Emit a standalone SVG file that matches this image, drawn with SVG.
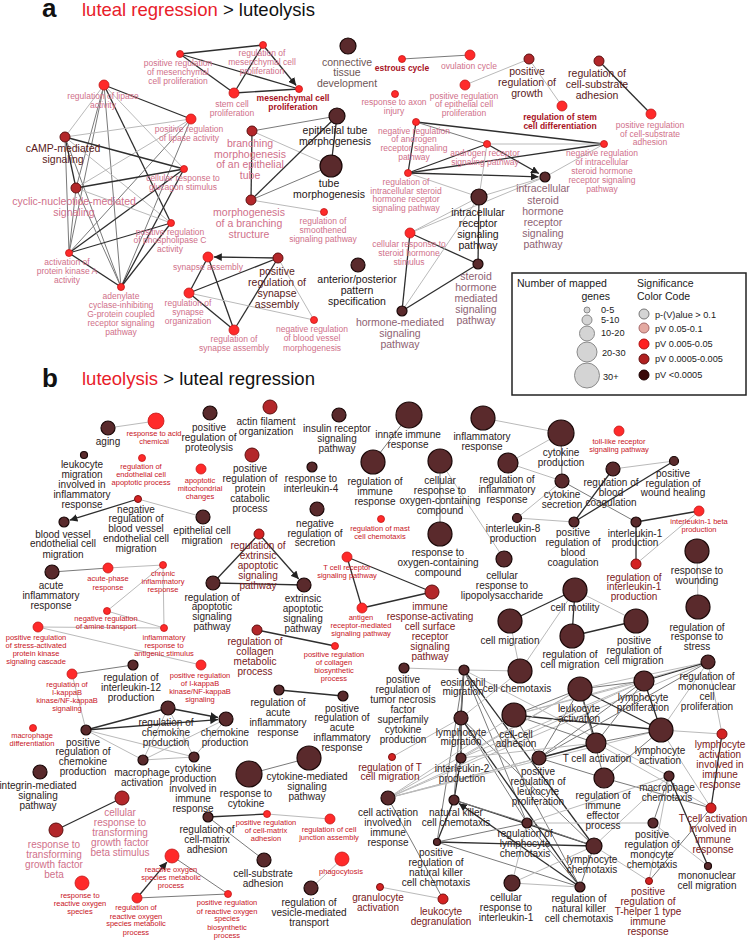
<svg xmlns="http://www.w3.org/2000/svg" width="748" height="940" viewBox="0 0 748 940">
<defs>
<marker id="arr" viewBox="0 0 10 10" refX="10" refY="5" markerWidth="6" markerHeight="6" orient="auto"><path d="M0,0 L10,5 L0,10 z" fill="#222"/></marker>
<style>
text{font-family:"Liberation Sans",Arial,sans-serif;text-anchor:middle}
.t1{font-size:10px;fill:#2b1b1b}
.t2{font-size:7.5px;fill:#c8141e}
.t3{font-size:8.5px;fill:#d0708a}
.t4{font-size:10.5px;fill:#d0708a}
.t4b{font-size:10px;fill:#d0708a}
.t5{font-size:10.5px;fill:#1e1414}
.t6{font-size:10.5px;fill:#5a1a20}
.t7{font-size:8.5px;fill:#a8121e;font-weight:bold}
.t8{font-size:10px;fill:#7a1820}
.t9{font-size:10.5px;fill:#8e6272}
.t10{font-size:10.5px;fill:#6e5656}
.lg{font-size:10.5px;fill:#1a1a1a;text-anchor:start}
.ls{font-size:9.2px;fill:#1a1a1a;text-anchor:start}
.dk{fill:#5a2a2c;stroke:#1a0808;stroke-width:1.2}
.dr{fill:#b3272a;stroke:#5e1010;stroke-width:1}
.md{fill:#d42222;stroke:#7a1010;stroke-width:1}
.rd{fill:#ff2a2a;stroke:#c21818;stroke-width:.8}
.e1{stroke:#2e2e2e;stroke-width:1.3}
.e2{stroke:#7a7a7a;stroke-width:1}
.e3{stroke:#bababa;stroke-width:1}
.ar{marker-end:url(#arr)}
</style>
</defs>
<rect width="748" height="940" fill="#fff"/>
<!-- titles -->
<text x="42" y="17" style="font-size:26px;font-weight:bold;text-anchor:start;fill:#111">a</text>
<text x="82" y="16" style="font-size:18.5px;text-anchor:start"><tspan fill="#e8202a">luteal regression</tspan><tspan fill="#111"> &gt; luteolysis</tspan></text>
<text x="42" y="387" style="font-size:26px;font-weight:bold;text-anchor:start;fill:#111">b</text>
<text x="82" y="385" style="font-size:18.5px;text-anchor:start"><tspan fill="#e8202a">luteolysis</tspan><tspan fill="#111"> &gt; luteal regression</tspan></text>

<g id="connectors" fill="none">
<!-- panel a lipase cluster -->
<line class="e1" x1="104" y1="85" x2="191" y2="119"/>
<line class="e3" x1="104" y1="85" x2="65" y2="137"/>
<line class="e3" x1="104" y1="85" x2="184" y2="169"/>
<line class="e2" x1="104" y1="85" x2="76" y2="188"/>
<line class="e1" x1="104" y1="85" x2="171" y2="223"/>
<line class="e2" x1="104" y1="85" x2="69" y2="253"/>
<line class="e2" x1="104" y1="85" x2="121" y2="287"/>
<line class="e3" x1="191" y1="119" x2="65" y2="137"/>
<line class="e3" x1="191" y1="119" x2="76" y2="188"/>
<line class="e2" x1="191" y1="119" x2="69" y2="253"/>
<line class="e2" x1="191" y1="119" x2="121" y2="287"/>
<line class="e1" x1="65" y1="137" x2="184" y2="169"/>
<line class="e1" x1="65" y1="137" x2="76" y2="188"/>
<line class="e3" x1="65" y1="137" x2="171" y2="223"/>
<line class="e2" x1="65" y1="137" x2="69" y2="253"/>
<line class="e2" x1="65" y1="137" x2="121" y2="287"/>
<line class="e1" x1="184" y1="169" x2="76" y2="188"/>
<line class="e1" x1="184" y1="169" x2="69" y2="253"/>
<line class="e1" x1="184" y1="169" x2="121" y2="287"/>
<line class="e3" x1="76" y1="188" x2="171" y2="223"/>
<line class="e2" x1="76" y1="188" x2="69" y2="253"/>
<line class="e2" x1="76" y1="188" x2="121" y2="287"/>
<line class="e1" x1="171" y1="223" x2="69" y2="253"/>
<line class="e1" x1="171" y1="223" x2="121" y2="287"/>
<line class="e1" x1="69" y1="253" x2="121" y2="287"/>
<!-- mesenchymal -->
<line class="e1" x1="180" y1="54" x2="263" y2="45"/>
<line class="e1" x1="180" y1="54" x2="234" y2="93"/>
<line class="e1" x1="180" y1="54" x2="299" y2="89"/>
<line class="e1" x1="263" y1="45" x2="234" y2="93"/>
<line class="e1 ar" x1="263" y1="45" x2="296.2" y2="85.5"/>
<line class="e1" x1="234" y1="93" x2="299" y2="89"/>
<!-- branching -->
<line class="e2" x1="252" y1="131" x2="337" y2="116"/>
<line class="e1" x1="252" y1="131" x2="251" y2="200"/>
<line class="e3" x1="252" y1="131" x2="331" y2="166"/>
<line class="e1" x1="251" y1="200" x2="337" y2="116"/>
<line class="e2" x1="251" y1="200" x2="331" y2="166"/>
<line class="e1" x1="337" y1="116" x2="331" y2="166"/>
<line class="e3" x1="251" y1="200" x2="324" y2="212"/>
<!-- synapse -->
<line class="e1 ar" x1="278" y1="258" x2="214" y2="257"/>
<line class="e1" x1="189" y1="293" x2="208" y2="257"/>
<line class="e1" x1="189" y1="293" x2="278" y2="258"/>
<line class="e1" x1="189" y1="293" x2="234" y2="330"/>
<line class="e1" x1="234" y1="330" x2="208" y2="257"/>
<line class="e1" x1="234" y1="330" x2="278" y2="258"/>
<line class="e3" x1="189" y1="293" x2="314" y2="320"/>
<line class="e3" x1="278" y1="258" x2="314" y2="320"/>
<!-- misc a -->
<line class="e2" x1="402" y1="59" x2="470" y2="55"/>
<line class="e3" x1="465" y1="85" x2="529" y2="59"/>
<line class="e3" x1="529" y1="59" x2="562" y2="106"/>
<line class="e1" x1="599" y1="61" x2="651" y2="114"/>
<!-- steroid -->
<line class="e1" x1="416" y1="122" x2="408" y2="173"/>
<line class="e1" x1="416" y1="122" x2="604" y2="144"/>
<line class="e2" x1="416" y1="122" x2="487" y2="144"/>
<line class="e1" x1="408" y1="173" x2="487" y2="144"/>
<line class="e1" x1="408" y1="173" x2="604" y2="144"/>
<line class="e1 ar" x1="408" y1="173" x2="538.5" y2="176.8"/>
<line class="e3" x1="408" y1="173" x2="479" y2="197"/>
<line class="e1 ar" x1="487" y1="144" x2="538.9" y2="173.5"/>
<line class="e3" x1="487" y1="144" x2="479" y2="197"/>
<line class="e3" x1="487" y1="144" x2="604" y2="144"/>
<line class="e3" x1="604" y1="144" x2="545" y2="177"/>
<line class="e3" x1="479" y1="197" x2="545" y2="177"/>
<line class="e3" x1="410" y1="233" x2="479" y2="197"/>
<line class="e3" x1="410" y1="233" x2="545" y2="177"/>
<line class="e1" x1="410" y1="233" x2="478" y2="264"/>
<line class="e1" x1="410" y1="233" x2="402" y2="311"/>
<line class="e1" x1="402" y1="311" x2="478" y2="264"/>
<line class="e3" x1="402" y1="311" x2="479" y2="197"/>
<line class="e1" x1="478" y1="264" x2="479" y2="197"/>

<!-- panel b -->
<line class="e3" x1="108" y1="428" x2="156" y2="421"/>
<line class="e1 ar" x1="138" y1="499" x2="69.7" y2="520.2"/>
<line class="e3" x1="138" y1="499" x2="203" y2="517"/>
<line class="e2" x1="409" y1="415" x2="373" y2="462"/>
<line class="e2" x1="440" y1="461" x2="440" y2="534"/>
<line class="e3" x1="440" y1="461" x2="504" y2="559"/>
<line class="e3" x1="483" y1="418" x2="561" y2="433"/>
<line class="e3" x1="561" y1="433" x2="508" y2="463"/>
<line class="e2" x1="561" y1="433" x2="562" y2="481"/>
<line class="e3" x1="508" y1="463" x2="562" y2="481"/>
<line class="e3" x1="562" y1="481" x2="517" y2="518"/>
<line class="e3" x1="517" y1="518" x2="574" y2="522"/>
<line class="e2" x1="562" y1="481" x2="636" y2="522"/>
<line class="e3" x1="613" y1="469" x2="674" y2="461"/>
<line class="e1" x1="574" y1="522" x2="613" y2="469"/>
<line class="e1" x1="574" y1="522" x2="674" y2="461"/>
<line class="e1" x1="636" y1="522" x2="699" y2="511"/>
<line class="e1" x1="636" y1="522" x2="636" y2="564"/>
<line class="e3" x1="699" y1="511" x2="636" y2="564"/>
<line class="e3" x1="697" y1="551" x2="698" y2="607"/>
<line class="e1" x1="575" y1="590" x2="510" y2="621"/>
<line class="e1" x1="575" y1="590" x2="572" y2="636"/>
<line class="e3" x1="575" y1="590" x2="636" y2="621"/>
<line class="e1" x1="572" y1="636" x2="636" y2="621"/>
<line class="e3" x1="575" y1="590" x2="520" y2="671"/>
<line class="e3" x1="510" y1="621" x2="520" y2="671"/>
<line class="e2" x1="52" y1="572" x2="108" y2="568"/>
<line class="e3" x1="108" y1="568" x2="163" y2="565"/>
<line class="e3" x1="163" y1="565" x2="107" y2="611"/>
<line class="e3" x1="163" y1="565" x2="164" y2="628"/>
<line class="e3" x1="107" y1="611" x2="164" y2="628"/>
<line class="e3" x1="38" y1="627" x2="164" y2="628"/>
<line class="e3" x1="38" y1="627" x2="201" y2="665"/>
<line class="e2" x1="72" y1="674" x2="133" y2="665"/>
<line class="e3" x1="72" y1="674" x2="86" y2="730"/>
<line class="e1" x1="213" y1="583" x2="259" y2="534"/>
<line class="e1" x1="213" y1="583" x2="304" y2="585"/>
<line class="e1 ar" x1="259" y1="534" x2="298.7" y2="579"/>
<line class="e1" x1="347" y1="557" x2="362" y2="608"/>
<line class="e1" x1="347" y1="557" x2="432" y2="592"/>
<line class="e1" x1="362" y1="608" x2="432" y2="592"/>
<line class="e1" x1="257" y1="630" x2="335" y2="646"/>
<line class="e1" x1="279" y1="690" x2="343" y2="696"/>
<line class="e3" x1="404" y1="668" x2="464" y2="670"/>
<line class="e1 ar" x1="168" y1="708" x2="218.1" y2="717.5"/>
<line class="e1 ar" x1="86" y1="730" x2="218" y2="719.6"/>
<line class="e1" x1="86" y1="730" x2="168" y2="708"/>
<line class="e3" x1="86" y1="730" x2="143" y2="760"/>
<line class="e3" x1="86" y1="730" x2="194" y2="757"/>
<line class="e3" x1="143" y1="760" x2="194" y2="757"/>
<line class="e3" x1="143" y1="760" x2="168" y2="708"/>
<line class="e3" x1="143" y1="760" x2="226" y2="719"/>
<line class="e3" x1="168" y1="708" x2="194" y2="757"/>
<line class="e3" x1="226" y1="719" x2="194" y2="757"/>
<line class="e1" x1="122" y1="798" x2="56" y2="830"/>
<line class="e1 ar" x1="137" y1="898" x2="166.9" y2="862.1"/>
<line class="e2" x1="137" y1="898" x2="228" y2="894"/>
<line class="e2" x1="172" y1="856" x2="228" y2="894"/>
<line class="e1" x1="208" y1="817" x2="267" y2="814"/>
<line class="e2" x1="208" y1="817" x2="264" y2="860"/>
<line class="e3" x1="267" y1="814" x2="330" y2="819"/>
<line class="e2" x1="249" y1="774" x2="309" y2="758"/>
<line class="e3" x1="342" y1="859" x2="311" y2="888"/>
<line class="e3" x1="380" y1="887" x2="443" y2="899"/>
<line class="e2" x1="388" y1="798" x2="443" y2="899"/>
<line class="e3" x1="392" y1="757" x2="461" y2="718"/>
<!-- immune cluster -->
<line class="e1" x1="464" y1="670" x2="461" y2="718"/>
<line class="e1" x1="461" y1="718" x2="461" y2="758"/>
<line class="e1" x1="461" y1="758" x2="454" y2="800"/>
<line class="e1" x1="437" y1="842" x2="454" y2="800"/>
<line class="e1 ar" x1="580" y1="887" x2="458.9" y2="803.4"/>
<line class="e1" x1="464" y1="670" x2="594" y2="846"/>
<line class="e2" x1="464" y1="670" x2="527" y2="823"/>
<line class="e2" x1="464" y1="670" x2="580" y2="887"/>
<line class="e2" x1="464" y1="670" x2="454" y2="800"/>
<line class="e3" x1="464" y1="670" x2="520" y2="671"/>
<line class="e3" x1="464" y1="670" x2="669" y2="776"/>
<line class="e2" x1="464" y1="670" x2="437" y2="842"/>
<line class="e2" x1="461" y1="718" x2="594" y2="846"/>
<line class="e2" x1="461" y1="718" x2="527" y2="823"/>
<line class="e1" x1="461" y1="718" x2="580" y2="887"/>
<line class="e3" x1="461" y1="718" x2="520" y2="671"/>
<line class="e3" x1="388" y1="798" x2="580" y2="689"/>
<line class="e3" x1="388" y1="798" x2="661" y2="730"/>
<line class="e3" x1="388" y1="798" x2="596" y2="743"/>
<line class="e3" x1="388" y1="798" x2="644" y2="681"/>
<line class="e3" x1="388" y1="798" x2="708" y2="662"/>
<line class="e3" x1="388" y1="798" x2="514" y2="715"/>
<line class="e3" x1="388" y1="798" x2="539" y2="758"/>
<line class="e1" x1="454" y1="800" x2="594" y2="846"/>
<line class="e2" x1="454" y1="800" x2="527" y2="823"/>
<line class="e1" x1="437" y1="842" x2="594" y2="846"/>
<line class="e2" x1="437" y1="842" x2="527" y2="823"/>
<line class="e2" x1="437" y1="842" x2="580" y2="887"/>
<line class="e2" x1="514" y1="715" x2="580" y2="689"/>
<line class="e2" x1="514" y1="715" x2="596" y2="743"/>
<line class="e1" x1="514" y1="715" x2="661" y2="730"/>
<line class="e3" x1="514" y1="715" x2="708" y2="662"/>
<line class="e3" x1="514" y1="715" x2="644" y2="681"/>
<line class="e2" x1="514" y1="715" x2="539" y2="758"/>
<line class="e2" x1="580" y1="689" x2="644" y2="681"/>
<line class="e3" x1="580" y1="689" x2="708" y2="662"/>
<line class="e1" x1="580" y1="689" x2="661" y2="730"/>
<line class="e1" x1="580" y1="689" x2="596" y2="743"/>
<line class="e2" x1="580" y1="689" x2="539" y2="758"/>
<line class="e2" x1="580" y1="689" x2="604" y2="778"/>
<line class="e1" x1="644" y1="681" x2="708" y2="662"/>
<line class="e1" x1="644" y1="681" x2="661" y2="730"/>
<line class="e2" x1="644" y1="681" x2="596" y2="743"/>
<line class="e2" x1="644" y1="681" x2="539" y2="758"/>
<line class="e2" x1="708" y1="662" x2="539" y2="758"/>
<line class="e3" x1="708" y1="662" x2="722" y2="734"/>
<line class="e3" x1="708" y1="662" x2="661" y2="730"/>
<line class="e2" x1="596" y1="743" x2="661" y2="730"/>
<line class="e1" x1="596" y1="743" x2="539" y2="758"/>
<line class="e3" x1="596" y1="743" x2="711" y2="808"/>
<line class="e3" x1="661" y1="730" x2="722" y2="734"/>
<line class="e3" x1="661" y1="730" x2="711" y2="808"/>
<line class="e2" x1="661" y1="730" x2="604" y2="778"/>
<line class="e2" x1="604" y1="778" x2="711" y2="808"/>
<line class="e2" x1="604" y1="778" x2="539" y2="758"/>
<line class="e1" x1="722" y1="734" x2="711" y2="808"/>
<line class="e1" x1="669" y1="776" x2="708" y2="866"/>
<line class="e2" x1="527" y1="823" x2="594" y2="846"/>
<line class="e2" x1="527" y1="823" x2="580" y2="887"/>
<line class="e3" x1="527" y1="823" x2="669" y2="776"/>
<line class="e3" x1="527" y1="823" x2="653" y2="823"/>
<line class="e2" x1="594" y1="846" x2="580" y2="887"/>
<line class="e3" x1="594" y1="846" x2="649" y2="881"/>
<line class="e3" x1="594" y1="846" x2="669" y2="776"/>
<line class="e2" x1="653" y1="823" x2="669" y2="776"/>
<line class="e3" x1="653" y1="823" x2="708" y2="866"/>
<line class="e2" x1="649" y1="881" x2="711" y2="808"/>
<line class="e3" x1="649" y1="881" x2="669" y2="776"/>
<line class="e3" x1="512" y1="883" x2="527" y2="823"/>
<line class="e3" x1="512" y1="883" x2="594" y2="846"/>
<line class="e3" x1="512" y1="883" x2="580" y2="887"/>
<line class="e3" x1="461" y1="758" x2="644" y2="681"/>
<line class="e3" x1="461" y1="758" x2="596" y2="743"/>
<line class="e3" x1="461" y1="758" x2="580" y2="689"/>
</g>

<!-- panel a nodes -->
<g id="a-posRegMes"><circle class="rd" cx="180" cy="54" r="3.5"/><text class="t3"><tspan x="178" y="66">positive regulation</tspan><tspan x="178" y="75">of mesenchymal</tspan><tspan x="178" y="84">cell proliferation</tspan></text></g>
<g id="a-regMes"><circle class="rd" cx="263" cy="45" r="3.5"/><text class="t3"><tspan x="262" y="56">regulation of</tspan><tspan x="262" y="65">mesenchymal cell</tspan><tspan x="262" y="74">proliferation</tspan></text></g>
<g id="a-stem"><circle class="rd" cx="234" cy="93" r="5"/><text class="t3"><tspan x="232" y="107">stem cell</tspan><tspan x="232" y="116">proliferation</tspan></text></g>
<g id="a-mesProl"><circle class="rd" cx="299" cy="89" r="3.5"/><text class="t7"><tspan x="293" y="101">mesenchymal cell</tspan><tspan x="293" y="110">proliferation</tspan></text></g>
<g id="a-regLip"><circle class="rd" cx="104" cy="85" r="5"/><text class="t3"><tspan x="103" y="99">regulation of lipase</tspan><tspan x="103" y="108">activity</tspan></text></g>
<g id="a-posLip"><circle class="rd" cx="191" cy="119" r="5"/><text class="t3"><tspan x="189" y="132">positive regulation</tspan><tspan x="189" y="141">of lipase activity</tspan></text></g>
<g id="a-cAMP"><circle class="dr" cx="65" cy="137" r="5"/><text class="t6"><tspan x="63" y="152">cAMP-mediated</tspan><tspan x="63" y="163">signaling</tspan></text></g>
<g id="a-gluc"><circle class="rd" cx="184" cy="169" r="3.5"/><text class="t3"><tspan x="183" y="181">cellular response to</tspan><tspan x="183" y="190">glucagon stimulus</tspan></text></g>
<g id="a-cyc"><circle class="dr" cx="76" cy="188" r="5"/><text class="t4"><tspan x="74" y="205">cyclic-nucleotide-mediated</tspan><tspan x="74" y="216">signaling</tspan></text></g>
<g id="a-plc"><circle class="rd" cx="171" cy="223" r="3.5"/><text class="t3"><tspan x="170" y="235">positive regulation</tspan><tspan x="170" y="243">of phospholipase C</tspan><tspan x="170" y="252">activity</tspan></text></g>
<g id="a-pka"><circle class="rd" cx="69" cy="253" r="3.5"/><text class="t3"><tspan x="67" y="265">activation of</tspan><tspan x="67" y="274">protein kinase A</tspan><tspan x="67" y="283">activity</tspan></text></g>
<g id="a-adcy"><circle class="rd" cx="121" cy="287" r="3.5"/><text class="t3"><tspan x="121" y="299">adenylate</tspan><tspan x="121" y="308">cyclase-inhibiting</tspan><tspan x="121" y="317">G-protein coupled</tspan><tspan x="121" y="326">receptor signaling</tspan><tspan x="121" y="335">pathway</tspan></text></g>
<g id="a-synAss"><circle class="rd" cx="208" cy="257" r="5"/><text class="t3" x="208" y="270">synapse assembly</text></g>
<g id="a-regSynOrg"><circle class="rd" cx="189" cy="293" r="5"/><text class="t3"><tspan x="188" y="306">regulation of</tspan><tspan x="188" y="315">synapse</tspan><tspan x="188" y="324">organization</tspan></text></g>
<g id="a-regSynAss"><circle class="rd" cx="234" cy="330" r="5"/><text class="t3"><tspan x="234" y="342">regulation of</tspan><tspan x="234" y="351">synapse assembly</tspan></text></g>
<g id="a-posRegSyn"><circle class="dr" cx="278" cy="258" r="5"/><text class="t6"><tspan x="277" y="275">positive</tspan><tspan x="277" y="286">regulation of</tspan><tspan x="277" y="297">synapse</tspan><tspan x="277" y="308">assembly</tspan></text></g>
<g id="a-negBV"><circle class="rd" cx="314" cy="320" r="3.5"/><text class="t3"><tspan x="312" y="332">negative regulation</tspan><tspan x="312" y="341">of blood vessel</tspan><tspan x="312" y="351">morphogenesis</tspan></text></g>
<g id="a-conn"><circle class="dk" cx="348" cy="46" r="8"/><text class="t10"><tspan x="347" y="66">connective</tspan><tspan x="347" y="76">tissue</tspan><tspan x="347" y="87">development</tspan></text></g>
<g id="a-branch"><circle class="dr" cx="252" cy="131" r="5"/><text class="t4"><tspan x="250" y="147">branching</tspan><tspan x="250" y="158">morphogenesis</tspan><tspan x="250" y="168">of an epithelial</tspan><tspan x="250" y="179">tube</tspan></text></g>
<g id="a-epi"><circle class="dk" cx="337" cy="116" r="8"/><text class="t5"><tspan x="335" y="134">epithelial tube</tspan><tspan x="335" y="145">morphogenesis</tspan></text></g>
<g id="a-tube"><circle class="dk" cx="331" cy="166" r="11"/><text class="t5"><tspan x="329" y="187">tube</tspan><tspan x="329" y="198">morphogenesis</tspan></text></g>
<g id="a-morphBr"><circle class="dr" cx="251" cy="200" r="5"/><text class="t4"><tspan x="249" y="216">morphogenesis</tspan><tspan x="249" y="227">of a branching</tspan><tspan x="249" y="238">structure</tspan></text></g>
<g id="a-smooth"><circle class="rd" cx="324" cy="212" r="3.5"/><text class="t3"><tspan x="323" y="224">regulation of</tspan><tspan x="323" y="233">smoothened</tspan><tspan x="323" y="242">signaling pathway</tspan></text></g>
<g id="a-ap"><circle class="dk" cx="358" cy="265" r="7"/><text class="t5"><tspan x="357" y="283">anterior/posterior</tspan><tspan x="357" y="294">pattern</tspan><tspan x="357" y="305">specification</tspan></text></g>
<g id="a-estrous"><circle class="rd" cx="402" cy="59" r="3.5"/><text class="t7" x="402" y="71">estrous cycle</text></g>
<g id="a-ovul"><circle class="rd" cx="470" cy="55" r="5"/><text class="t3" x="469" y="69">ovulation cycle</text></g>
<g id="a-axon"><circle class="rd" cx="395" cy="94" r="3.5"/><text class="t3"><tspan x="394" y="105">response to axon</tspan><tspan x="394" y="114">injury</tspan></text></g>
<g id="a-posEpi"><circle class="rd" cx="465" cy="85" r="5"/><text class="t3"><tspan x="464" y="99">positive regulation</tspan><tspan x="464" y="107">of epithelial cell</tspan><tspan x="464" y="116">proliferation</tspan></text></g>
<g id="a-negAndr"><circle class="rd" cx="416" cy="122" r="3.5"/><text class="t3"><tspan x="414" y="134">negative regulation</tspan><tspan x="414" y="142">of androgen</tspan><tspan x="414" y="151">receptor signaling</tspan><tspan x="414" y="160">pathway</tspan></text></g>
<g id="a-andr"><circle class="rd" cx="487" cy="144" r="3.5"/><text class="t3"><tspan x="485" y="156">androgen receptor</tspan><tspan x="485" y="165">signaling pathway</tspan></text></g>
<g id="a-regIntra"><circle class="rd" cx="408" cy="173" r="3.5"/><text class="t3"><tspan x="406" y="185">regulation of</tspan><tspan x="406" y="194">intracellular steroid</tspan><tspan x="406" y="202">hormone receptor</tspan><tspan x="406" y="211">signaling pathway</tspan></text></g>
<g id="a-intraRec"><circle class="dk" cx="479" cy="197" r="8"/><text class="t5"><tspan x="478" y="216">intracellular</tspan><tspan x="478" y="227">receptor</tspan><tspan x="478" y="238">signaling</tspan><tspan x="478" y="249">pathway</tspan></text></g>
<g id="a-cellSter"><circle class="rd" cx="410" cy="233" r="5"/><text class="t3"><tspan x="409" y="247">cellular response to</tspan><tspan x="409" y="256">steroid hormone</tspan><tspan x="409" y="265">stimulus</tspan></text></g>
<g id="a-sterHorm"><circle class="dk" cx="478" cy="264" r="5"/><text class="t9"><tspan x="476" y="280">steroid</tspan><tspan x="476" y="291">hormone</tspan><tspan x="476" y="302">mediated</tspan><tspan x="476" y="313">signaling</tspan><tspan x="476" y="324">pathway</tspan></text></g>
<g id="a-hormMed"><circle class="dk" cx="402" cy="311" r="5"/><text class="t9"><tspan x="400" y="326">hormone-mediated</tspan><tspan x="400" y="337">signaling</tspan><tspan x="400" y="348">pathway</tspan></text></g>
<g id="a-posGrowth"><circle class="dr" cx="529" cy="59" r="5"/><text class="t6"><tspan x="527" y="75">positive</tspan><tspan x="527" y="86">regulation of</tspan><tspan x="527" y="97">growth</tspan></text></g>
<g id="a-regCSA"><circle class="dr" cx="599" cy="61" r="5"/><text class="t6"><tspan x="597" y="77">regulation of</tspan><tspan x="597" y="88">cell-substrate</tspan><tspan x="597" y="99">adhesion</tspan></text></g>
<g id="a-regStem"><circle class="rd" cx="562" cy="106" r="5"/><text class="t7"><tspan x="560" y="120">regulation of stem</tspan><tspan x="560" y="129">cell differentiation</tspan></text></g>
<g id="a-posCSA"><circle class="rd" cx="651" cy="114" r="5"/><text class="t3"><tspan x="650" y="128">positive regulation</tspan><tspan x="650" y="137">of cell-substrate</tspan><tspan x="650" y="145">adhesion</tspan></text></g>
<g id="a-negIntra"><circle class="rd" cx="604" cy="144" r="3.5"/><text class="t3"><tspan x="602" y="156">negative regulation</tspan><tspan x="602" y="165">of intracellular</tspan><tspan x="602" y="174">steroid hormone</tspan><tspan x="602" y="183">receptor signaling</tspan><tspan x="602" y="192">pathway</tspan></text></g>
<g id="a-intraSter"><circle class="dk" cx="545" cy="177" r="5"/><text class="t9"><tspan x="543" y="192">intracellular</tspan><tspan x="543" y="204">steroid</tspan><tspan x="543" y="215">hormone</tspan><tspan x="543" y="226">receptor</tspan><tspan x="543" y="237">signaling</tspan><tspan x="543" y="248">pathway</tspan></text></g>

<!-- legend -->
<g id="legend">
<rect x="512" y="273" width="234" height="122" fill="#fff" stroke="#222" stroke-width="1.5"/>
<text class="lg" x="517" y="287">Number of mapped</text>
<text class="lg" x="610" y="300" style="text-anchor:end">genes</text>
<text class="lg" x="637" y="287">Significance</text>
<text class="lg" x="637" y="300">Color Code</text>
<g fill="#d4d4d4" stroke="#8a8a8a" stroke-width="1">
<circle cx="587" cy="310" r="3"/><circle cx="587" cy="320" r="5"/><circle cx="587" cy="333.5" r="7.5"/><circle cx="587" cy="352" r="10"/><circle cx="587" cy="375.5" r="12.5"/>
</g>
<text class="ls" x="601" y="312.5">0-5</text>
<text class="ls" x="601" y="322.5">5-10</text>
<text class="ls" x="601" y="336">10-20</text>
<text class="ls" x="602" y="355.5">20-30</text>
<text class="ls" x="603" y="380">30+</text>
<circle cx="644" cy="314" r="5" fill="#d4d4d4" stroke="#777"/>
<circle cx="644" cy="328" r="5" fill="#e4aaa2" stroke="#a86a6a"/>
<circle cx="644" cy="344" r="5" fill="#ff2020" stroke="#b01010"/>
<circle cx="644" cy="359" r="5" fill="#b02020" stroke="#601010"/>
<circle cx="644" cy="375" r="5" fill="#3a0a0a" stroke="#1a0000"/>
<text class="ls" x="655" y="317.5">p-(V)alue &gt; 0.1</text>
<text class="ls" x="655" y="331.5">pV 0.05-0.1</text>
<text class="ls" x="655" y="346.5">pV 0.005-0.05</text>
<text class="ls" x="655" y="362">pV 0.0005-0.005</text>
<text class="ls" x="655" y="378">pV &lt;0.0005</text>
</g>

<!-- panel b nodes -->
<g id="b-aging"><circle class="dk" cx="108" cy="428" r="7"/><text class="t1" x="108" y="445">aging</text></g>
<g id="b-acidChem"><circle class="rd" cx="156" cy="421" r="8"/><text class="t2"><tspan x="154" y="436">response to acid</tspan><tspan x="154" y="444">chemical</tspan></text></g>
<g id="b-posProteol"><circle class="dk" cx="210" cy="413" r="7"/><text class="t1"><tspan x="209" y="430.5">positive</tspan><tspan x="209" y="440.5">regulation of</tspan><tspan x="209" y="450.5">proteolysis</tspan></text></g>
<g id="b-actin"><circle class="dr" cx="270" cy="407" r="7"/><text class="t1"><tspan x="266" y="424.5">actin filament</tspan><tspan x="266" y="434.5">organization</tspan></text></g>
<g id="b-insulin"><circle class="dk" cx="339" cy="415" r="7"/><text class="t1"><tspan x="337" y="431.5">insulin receptor</tspan><tspan x="337" y="441.5">signaling</tspan><tspan x="337" y="451.5">pathway</tspan></text></g>
<g id="b-innate"><circle class="dk" cx="409" cy="415" r="13"/><text class="t1"><tspan x="408" y="437.5">innate immune</tspan><tspan x="408" y="447.5">response</tspan></text></g>
<g id="b-inflam"><circle class="dk" cx="483" cy="418" r="12"/><text class="t1"><tspan x="482" y="439.5">inflammatory</tspan><tspan x="482" y="449.5">response</tspan></text></g>
<g id="b-cytoProd"><circle class="dk" cx="561" cy="433" r="13"/><text class="t1"><tspan x="561" y="455.5">cytokine</tspan><tspan x="561" y="465.5">production</tspan></text></g>
<g id="b-toll"><circle class="rd" cx="619" cy="431" r="5"/><text class="t2"><tspan x="619" y="443.5">toll-like receptor</tspan><tspan x="619" y="451.5">signaling pathway</tspan></text></g>
<g id="b-leukMigInf"><circle class="dk" cx="84" cy="455" r="3.5"/><text class="t1"><tspan x="82" y="467.5">leukocyte</tspan><tspan x="82" y="477.5">migration</tspan><tspan x="82" y="487.5">involved in</tspan><tspan x="82" y="497.5">inflammatory</tspan><tspan x="82" y="507.5">response</tspan></text></g>
<g id="b-regEndo"><circle class="rd" cx="142" cy="458" r="3.5"/><text class="t2"><tspan x="141" y="469">regulation of</tspan><tspan x="141" y="477">endothelial cell</tspan><tspan x="141" y="485">apoptotic process</tspan></text></g>
<g id="b-apoMito"><circle class="rd" cx="201" cy="469" r="5"/><text class="t2"><tspan x="200" y="482.5">apoptotic</tspan><tspan x="200" y="490.5">mitochondrial</tspan><tspan x="200" y="498.5">changes</tspan></text></g>
<g id="b-posProtCat"><circle class="dr" cx="252" cy="455" r="7"/><text class="t1"><tspan x="250" y="471.5">positive</tspan><tspan x="250" y="481.5">regulation of</tspan><tspan x="250" y="491.5">protein</tspan><tspan x="250" y="501.5">catabolic</tspan><tspan x="250" y="511.5">process</tspan></text></g>
<g id="b-respIL4"><circle class="dk" cx="312" cy="467" r="5"/><text class="t1"><tspan x="311" y="481.5">response to</tspan><tspan x="311" y="491.5">interleukin-4</tspan></text></g>
<g id="b-regImm"><circle class="dk" cx="373" cy="462" r="12"/><text class="t1"><tspan x="375" y="484.5">regulation of</tspan><tspan x="375" y="494.5">immune</tspan><tspan x="375" y="504.5">response</tspan></text></g>
<g id="b-cellRespOx"><circle class="dk" cx="440" cy="461" r="12"/><text class="t1"><tspan x="440" y="483.5">cellular</tspan><tspan x="440" y="493.5">response to</tspan><tspan x="440" y="503.5">oxygen-containing</tspan><tspan x="440" y="513.5">compound</tspan></text></g>
<g id="b-regInflam"><circle class="dk" cx="508" cy="463" r="10"/><text class="t1"><tspan x="507" y="482.5">regulation of</tspan><tspan x="507" y="492.5">inflammatory</tspan><tspan x="507" y="502.5">response</tspan></text></g>
<g id="b-cytoSec"><circle class="dk" cx="562" cy="481" r="7"/><text class="t1"><tspan x="562" y="497.5">cytokine</tspan><tspan x="562" y="507.5">secretion</tspan></text></g>
<g id="b-regBloodCoag"><circle class="dk" cx="613" cy="469" r="7"/><text class="t1"><tspan x="611" y="485.5">regulation of</tspan><tspan x="611" y="495.5">blood</tspan><tspan x="611" y="505.5">coagulation</tspan></text></g>
<g id="b-posWound"><circle class="dk" cx="674" cy="461" r="4.5"/><text class="t1"><tspan x="673" y="476.5">positive</tspan><tspan x="673" y="486.5">regulation of</tspan><tspan x="673" y="496">wound healing</tspan></text></g>
<g id="b-negBVEndo"><circle class="md" cx="138" cy="499" r="3.5"/><text class="t1"><tspan x="136" y="512.5">negative</tspan><tspan x="136" y="522">regulation of</tspan><tspan x="136" y="532">blood vessel</tspan><tspan x="136" y="542">endothelial cell</tspan><tspan x="136" y="552">migration</tspan></text></g>
<g id="b-bvEndo"><circle class="dk" cx="64" cy="522" r="5"/><text class="t1"><tspan x="63" y="537.5">blood vessel</tspan><tspan x="63" y="547">endothelial cell</tspan><tspan x="63" y="557.5">migration</tspan></text></g>
<g id="b-epiCellMig"><circle class="dk" cx="203" cy="517" r="7"/><text class="t1"><tspan x="202" y="533.5">epithelial cell</tspan><tspan x="202" y="543.5">migration</tspan></text></g>
<g id="b-negSec"><circle class="dk" cx="317" cy="509" r="7"/><text class="t1"><tspan x="315" y="526.5">negative</tspan><tspan x="315" y="536.5">regulation of</tspan><tspan x="315" y="546">secretion</tspan></text></g>
<g id="b-mastCell"><circle class="rd" cx="381" cy="519" r="3.5"/><text class="t2"><tspan x="380" y="530.5">regulation of mast</tspan><tspan x="380" y="538.5">cell chemotaxis</tspan></text></g>
<g id="b-respOx"><circle class="dk" cx="440" cy="534" r="12"/><text class="t1"><tspan x="438" y="555.5">response to</tspan><tspan x="438" y="565.5">oxygen-containing</tspan><tspan x="438" y="575.5">compound</tspan></text></g>
<g id="b-IL8"><circle class="dk" cx="517" cy="518" r="4.5"/><text class="t1"><tspan x="513" y="531.5">interleukin-8</tspan><tspan x="513" y="541.5">production</tspan></text></g>
<g id="b-posBloodCoag"><circle class="dk" cx="574" cy="522" r="5"/><text class="t1"><tspan x="573" y="536">positive</tspan><tspan x="573" y="546">regulation of</tspan><tspan x="573" y="556">blood</tspan><tspan x="573" y="566">coagulation</tspan></text></g>
<g id="b-IL1prod"><circle class="dk" cx="636" cy="522" r="5"/><text class="t1"><tspan x="635" y="536.5">interleukin-1</tspan><tspan x="635" y="545.5">production</tspan></text></g>
<g id="b-IL1beta"><circle class="rd" cx="699" cy="511" r="5"/><text class="t2"><tspan x="699" y="524">interleukin-1 beta</tspan><tspan x="699" y="532">production</tspan></text></g>
<g id="b-cellRespLPS"><circle class="dk" cx="504" cy="559" r="8"/><text class="t1"><tspan x="502" y="578.5">cellular</tspan><tspan x="502" y="588.5">response to</tspan><tspan x="502" y="598.5">lipopolysaccharide</tspan></text></g>
<g id="b-regIL1"><circle class="md" cx="636" cy="564" r="5"/><text class="t8"><tspan x="634" y="580.5">regulation of</tspan><tspan x="634" y="590">interleukin-1</tspan><tspan x="634" y="600">production</tspan></text></g>
<g id="b-respWound"><circle class="dk" cx="697" cy="551" r="12"/><text class="t1"><tspan x="697" y="573.5">response to</tspan><tspan x="697" y="583.5">wounding</tspan></text></g>
<g id="b-acuteInf"><circle class="dk" cx="52" cy="572" r="7"/><text class="t1"><tspan x="51" y="588.5">acute</tspan><tspan x="51" y="598.5">inflammatory</tspan><tspan x="51" y="608.5">response</tspan></text></g>
<g id="b-acutePhase"><circle class="rd" cx="108" cy="568" r="5"/><text class="t2"><tspan x="108" y="581">acute-phase</tspan><tspan x="108" y="590">response</tspan></text></g>
<g id="b-chronic"><circle class="rd" cx="163" cy="565" r="3.5"/><text class="t2"><tspan x="163" y="576">chronic</tspan><tspan x="163" y="584">inflammatory</tspan><tspan x="163" y="592">response</tspan></text></g>
<g id="b-regApop"><circle class="dk" cx="213" cy="583" r="7"/><text class="t1"><tspan x="212" y="600.5">regulation of</tspan><tspan x="212" y="610">apoptotic</tspan><tspan x="212" y="620">signaling</tspan><tspan x="212" y="630">pathway</tspan></text></g>
<g id="b-regExtr"><circle class="md" cx="259" cy="534" r="5"/><text class="t8"><tspan x="258" y="548.5">regulation of</tspan><tspan x="258" y="558.5">extrinsic</tspan><tspan x="258" y="568.5">apoptotic</tspan><tspan x="258" y="578.5">signaling</tspan><tspan x="258" y="588.5">pathway</tspan></text></g>
<g id="b-extr"><circle class="dk" cx="304" cy="585" r="7"/><text class="t1"><tspan x="303" y="601.5">extrinsic</tspan><tspan x="303" y="611.5">apoptotic</tspan><tspan x="303" y="621.5">signaling</tspan><tspan x="303" y="631.5">pathway</tspan></text></g>
<g id="b-TCR"><circle class="rd" cx="347" cy="557" r="5"/><text class="t2"><tspan x="347" y="569.5">T cell receptor</tspan><tspan x="347" y="577.5">signaling pathway</tspan></text></g>
<g id="b-antigen"><circle class="rd" cx="362" cy="608" r="5"/><text class="t2"><tspan x="361" y="620">antigen</tspan><tspan x="361" y="628">receptor-mediated</tspan><tspan x="361" y="636">signaling pathway</tspan></text></g>
<g id="b-immRespAct"><circle class="dr" cx="432" cy="592" r="7"/><text class="t8"><tspan x="430" y="609.5">immune</tspan><tspan x="430" y="619.5">response-activating</tspan><tspan x="430" y="629.5">cell surface</tspan><tspan x="430" y="639.5">receptor</tspan><tspan x="430" y="649.5">signaling</tspan><tspan x="430" y="659.5">pathway</tspan></text></g>
<g id="b-cellMotility"><circle class="dk" cx="575" cy="590" r="12"/><text class="t1" x="575" y="611">cell motility</text></g>
<g id="b-cellMig"><circle class="dk" cx="510" cy="621" r="12"/><text class="t1" x="510" y="644">cell migration</text></g>
<g id="b-regCellMig"><circle class="dk" cx="572" cy="636" r="12"/><text class="t1"><tspan x="570" y="657.5">regulation of</tspan><tspan x="570" y="667.5">cell migration</tspan></text></g>
<g id="b-posRegCellMig"><circle class="dk" cx="636" cy="621" r="12"/><text class="t1"><tspan x="634" y="643.5">positive</tspan><tspan x="634" y="653.5">regulation of</tspan><tspan x="634" y="663.5">cell migration</tspan></text></g>
<g id="b-regRespStress"><circle class="dk" cx="698" cy="607" r="12"/><text class="t1"><tspan x="697" y="630.5">regulation of</tspan><tspan x="697" y="640">response to</tspan><tspan x="697" y="650">stress</tspan></text></g>
<g id="b-negAmine"><circle class="rd" cx="107" cy="611" r="3.5"/><text class="t2"><tspan x="106" y="621">negative regulation</tspan><tspan x="106" y="629">of amine transport</tspan></text></g>
<g id="b-inflAntigen"><circle class="rd" cx="164" cy="628" r="3.5"/><text class="t2"><tspan x="164" y="640">inflammatory</tspan><tspan x="164" y="648">response to</tspan><tspan x="164" y="656">antigenic stimulus</tspan></text></g>
<g id="b-posStress"><circle class="rd" cx="38" cy="627" r="5"/><text class="t2"><tspan x="36" y="640">positive regulation</tspan><tspan x="36" y="648">of stress-activated</tspan><tspan x="36" y="656">protein kinase</tspan><tspan x="36" y="664">signaling cascade</tspan></text></g>
<g id="b-regCollagen"><circle class="dr" cx="257" cy="630" r="5"/><text class="t8"><tspan x="255" y="644.5">regulation of</tspan><tspan x="255" y="654.5">collagen</tspan><tspan x="255" y="664.5">metabolic</tspan><tspan x="255" y="674.5">process</tspan></text></g>
<g id="b-posCollagen"><circle class="rd" cx="335" cy="646" r="3.5"/><text class="t2"><tspan x="334" y="657">positive regulation</tspan><tspan x="334" y="665">of collagen</tspan><tspan x="334" y="673">biosynthetic</tspan><tspan x="334" y="681">process</tspan></text></g>
<g id="b-regIL12"><circle class="dk" cx="133" cy="665" r="5"/><text class="t1"><tspan x="131" y="680.5">regulation of</tspan><tspan x="131" y="690.5">interleukin-12</tspan><tspan x="131" y="700.5">production</tspan></text></g>
<g id="b-posIkB"><circle class="rd" cx="201" cy="665" r="5"/><text class="t2"><tspan x="200" y="678">positive regulation</tspan><tspan x="200" y="686">of I-kappaB</tspan><tspan x="200" y="694">kinase/NF-kappaB</tspan><tspan x="200" y="702">signaling</tspan></text></g>
<g id="b-regIkB"><circle class="rd" cx="72" cy="674" r="5"/><text class="t2"><tspan x="67" y="687">regulation of</tspan><tspan x="67" y="695">I-kappaB</tspan><tspan x="67" y="703">kinase/NF-kappaB</tspan><tspan x="67" y="711">signaling</tspan></text></g>
<g id="b-posTNF"><circle class="dk" cx="404" cy="668" r="5"/><text class="t1"><tspan x="403" y="682.5">positive</tspan><tspan x="403" y="692.5">regulation of</tspan><tspan x="403" y="702.5">tumor necrosis</tspan><tspan x="403" y="712.5">factor</tspan><tspan x="403" y="722.5">superfamily</tspan><tspan x="403" y="732.5">cytokine</tspan><tspan x="403" y="742.5">production</tspan></text></g>
<g id="b-eosino"><circle class="dk" cx="464" cy="670" r="5"/><text class="t1"><tspan x="463" y="685.5">eosinophil</tspan><tspan x="463" y="694.5">migration</tspan></text></g>
<g id="b-cellChemo"><circle class="dk" cx="520" cy="671" r="12"/><text class="t1" x="517" y="692">cell chemotaxis</text></g>
<g id="b-leukAct"><circle class="dk" cx="580" cy="689" r="12"/><text class="t1"><tspan x="579" y="711.5">leukocyte</tspan><tspan x="579" y="721.5">activation</tspan></text></g>
<g id="b-lymphProl"><circle class="dk" cx="644" cy="681" r="10"/><text class="t1"><tspan x="643" y="700.5">lymphocyte</tspan><tspan x="643" y="710.5">proliferation</tspan></text></g>
<g id="b-regMonoProl"><circle class="dk" cx="708" cy="662" r="7"/><text class="t1"><tspan x="707" y="679.5">regulation of</tspan><tspan x="707" y="689.5">mononuclear</tspan><tspan x="707" y="699.5">cell</tspan><tspan x="707" y="709.5">proliferation</tspan></text></g>
<g id="b-regAcute"><circle class="dk" cx="279" cy="690" r="5"/><text class="t1"><tspan x="278" y="705.5">regulation of</tspan><tspan x="278" y="715.5">acute</tspan><tspan x="278" y="725.5">inflammatory</tspan><tspan x="278" y="735.5">response</tspan></text></g>
<g id="b-posAcute"><circle class="dk" cx="343" cy="696" r="5"/><text class="t1"><tspan x="342" y="711.5">positive</tspan><tspan x="342" y="721">regulation of</tspan><tspan x="342" y="731">acute</tspan><tspan x="342" y="741">inflammatory</tspan><tspan x="342" y="750.5">response</tspan></text></g>
<g id="b-regChemo"><circle class="dk" cx="168" cy="708" r="7"/><text class="t1"><tspan x="166" y="725.5">regulation of</tspan><tspan x="166" y="735.5">chemokine</tspan><tspan x="166" y="745.5">production</tspan></text></g>
<g id="b-chemoProd"><circle class="dk" cx="226" cy="719" r="7"/><text class="t1"><tspan x="225" y="735.5">chemokine</tspan><tspan x="225" y="745.5">production</tspan></text></g>
<g id="b-macroDiff"><circle class="rd" cx="33" cy="728" r="3.5"/><text class="t2"><tspan x="32" y="738">macrophage</tspan><tspan x="32" y="746">differentiation</tspan></text></g>
<g id="b-posRegChemo"><circle class="dk" cx="86" cy="730" r="5"/><text class="t1"><tspan x="83" y="745.5">positive</tspan><tspan x="83" y="755">regulation of</tspan><tspan x="83" y="765">chemokine</tspan><tspan x="83" y="775">production</tspan></text></g>
<g id="b-lymphMig"><circle class="dk" cx="461" cy="718" r="7"/><text class="t1"><tspan x="461" y="735.5">lymphocyte</tspan><tspan x="461" y="744.5">migration</tspan></text></g>
<g id="b-cellCell"><circle class="dk" cx="514" cy="715" r="12"/><text class="t1"><tspan x="516" y="737.5">cell-cell</tspan><tspan x="516" y="746.5">adhesion</tspan></text></g>
<g id="b-lymphAct"><circle class="dk" cx="661" cy="730" r="12"/><text class="t1"><tspan x="660" y="753.5">lymphocyte</tspan><tspan x="660" y="763.5">activation</tspan></text></g>
<g id="b-lymphActInv"><circle class="md" cx="722" cy="734" r="5"/><text class="t8"><tspan x="720" y="747.5">lymphocyte</tspan><tspan x="720" y="757.5">activation</tspan><tspan x="720" y="767.5">involved in</tspan><tspan x="720" y="777.5">immune</tspan><tspan x="720" y="787.5">response</tspan></text></g>
<g id="b-TcellAct"><circle class="dk" cx="596" cy="743" r="10"/><text class="t1" x="597" y="762">T cell activation</text></g>
<g id="b-posLeukProl"><circle class="dk" cx="539" cy="758" r="7"/><text class="t1"><tspan x="538" y="774.5">positive</tspan><tspan x="538" y="784.5">regulation of</tspan><tspan x="538" y="794.5">leukocyte</tspan><tspan x="538" y="804.5">proliferation</tspan></text></g>
<g id="b-integrin"><circle class="dk" cx="40" cy="772" r="7"/><text class="t1"><tspan x="38" y="788.5">integrin-mediated</tspan><tspan x="38" y="798.5">signaling</tspan><tspan x="38" y="808.5">pathway</tspan></text></g>
<g id="b-macroAct"><circle class="dk" cx="143" cy="760" r="5"/><text class="t1"><tspan x="142" y="775.5">macrophage</tspan><tspan x="142" y="785.5">activation</tspan></text></g>
<g id="b-cytoProdImm"><circle class="dk" cx="194" cy="757" r="5"/><text class="t1"><tspan x="193" y="771.5">cytokine</tspan><tspan x="193" y="781.5">production</tspan><tspan x="193" y="791.5">involved in</tspan><tspan x="193" y="801.5">immune</tspan><tspan x="193" y="811.5">response</tspan></text></g>
<g id="b-respCyto"><circle class="dk" cx="249" cy="774" r="13"/><text class="t1"><tspan x="246" y="796.5">response to</tspan><tspan x="246" y="806.5">cytokine</tspan></text></g>
<g id="b-cytoMed"><circle class="dk" cx="309" cy="758" r="12"/><text class="t1"><tspan x="307" y="779.5">cytokine-mediated</tspan><tspan x="307" y="789.5">signaling</tspan><tspan x="307" y="799.5">pathway</tspan></text></g>
<g id="b-regTcellMig"><circle class="md" cx="392" cy="757" r="3.5"/><text class="t8"><tspan x="390" y="770.5">regulation of T</tspan><tspan x="390" y="779.5">cell migration</tspan></text></g>
<g id="b-IL2"><circle class="dk" cx="461" cy="758" r="5"/><text class="t1"><tspan x="462" y="771.5">interleukin-2</tspan><tspan x="462" y="781.5">production</tspan></text></g>
<g id="b-regImmEff"><circle class="dk" cx="604" cy="778" r="10"/><text class="t1"><tspan x="603" y="798.5">regulation of</tspan><tspan x="603" y="808.5">immune</tspan><tspan x="603" y="818.5">effector</tspan><tspan x="603" y="828.5">process</tspan></text></g>
<g id="b-macroChemo"><circle class="dk" cx="669" cy="776" r="5"/><text class="t1"><tspan x="667" y="790.5">macrophage</tspan><tspan x="667" y="800.5">chemotaxis</tspan></text></g>
<g id="b-cellTGF"><circle class="dr" cx="122" cy="798" r="7"/><text class="t4b"><tspan x="120" y="815.5">cellular</tspan><tspan x="120" y="825.5">response to</tspan><tspan x="120" y="835.5">transforming</tspan><tspan x="120" y="845.5">growth factor</tspan><tspan x="120" y="855.5">beta stimulus</tspan></text></g>
<g id="b-respTGF"><circle class="dr" cx="56" cy="830" r="7"/><text class="t4b"><tspan x="54" y="847.5">response to</tspan><tspan x="54" y="857.5">transforming</tspan><tspan x="54" y="867.5">growth factor</tspan><tspan x="54" y="877.5">beta</tspan></text></g>
<g id="b-cellAct"><circle class="dk" cx="388" cy="798" r="7"/><text class="t1"><tspan x="388" y="815.5">cell activation</tspan><tspan x="388" y="825.5">involved in</tspan><tspan x="388" y="835.5">immune</tspan><tspan x="388" y="845.5">response</tspan></text></g>
<g id="b-NKchemo"><circle class="dk" cx="454" cy="800" r="5"/><text class="t1"><tspan x="456" y="815.5">natural killer</tspan><tspan x="456" y="825.5">cell chemotaxis</tspan></text></g>
<g id="b-TcellActInv"><circle class="md" cx="711" cy="808" r="5"/><text class="t8"><tspan x="713" y="822">T cell activation</tspan><tspan x="713" y="832">involved in</tspan><tspan x="713" y="842.5">immune</tspan><tspan x="713" y="852.5">response</tspan></text></g>
<g id="b-regCellMatrix"><circle class="dk" cx="208" cy="817" r="5"/><text class="t1"><tspan x="207" y="832.5">regulation of</tspan><tspan x="207" y="842.5">cell-matrix</tspan><tspan x="207" y="852.5">adhesion</tspan></text></g>
<g id="b-posCellMatrix"><circle class="rd" cx="267" cy="814" r="3.5"/><text class="t2"><tspan x="266" y="825">positive regulation</tspan><tspan x="266" y="833">of cell-matrix</tspan><tspan x="266" y="841">adhesion</tspan></text></g>
<g id="b-regCellJunc"><circle class="rd" cx="330" cy="819" r="5"/><text class="t2"><tspan x="329" y="832">regulation of cell</tspan><tspan x="329" y="840">junction assembly</tspan></text></g>
<g id="b-regLymphChemo"><circle class="dk" cx="527" cy="823" r="5"/><text class="t1"><tspan x="525" y="836.5">regulation of</tspan><tspan x="525" y="846.5">lymphocyte</tspan><tspan x="525" y="856.5">chemotaxis</tspan></text></g>
<g id="b-posMonoChemo"><circle class="dk" cx="653" cy="823" r="5"/><text class="t1"><tspan x="652" y="837.5">positive</tspan><tspan x="652" y="847.5">regulation of</tspan><tspan x="652" y="857.5">monocyte</tspan><tspan x="652" y="867.5">chemotaxis</tspan></text></g>
<g id="b-posNKchemo"><circle class="dk" cx="437" cy="842" r="3.5"/><text class="t1"><tspan x="436" y="855.5">positive</tspan><tspan x="436" y="865.5">regulation of</tspan><tspan x="436" y="875.5">natural killer</tspan><tspan x="436" y="885.5">cell chemotaxis</tspan></text></g>
<g id="b-lymphChemo"><circle class="dk" cx="594" cy="846" r="8"/><text class="t1"><tspan x="592" y="862.5">lymphocyte</tspan><tspan x="592" y="872.5">chemotaxis</tspan></text></g>
<g id="b-ROSmet"><circle class="rd" cx="172" cy="856" r="7"/><text class="t2"><tspan x="171" y="872">reactive oxygen</tspan><tspan x="171" y="880">species metabolic</tspan><tspan x="171" y="888">process</tspan></text></g>
<g id="b-cellSubst"><circle class="dk" cx="264" cy="860" r="7"/><text class="t1"><tspan x="263" y="876.5">cell-substrate</tspan><tspan x="263" y="886.5">adhesion</tspan></text></g>
<g id="b-phago"><circle class="rd" cx="342" cy="859" r="7"/><text class="t2" x="341" y="874">phagocytosis</text></g>
<g id="b-monoCellMig"><circle class="dk" cx="708" cy="866" r="3.5"/><text class="t1"><tspan x="707" y="878.5">mononuclear</tspan><tspan x="707" y="888.5">cell migration</tspan></text></g>
<g id="b-respROS"><circle class="rd" cx="82" cy="883" r="7"/><text class="t2"><tspan x="80" y="898">response to</tspan><tspan x="80" y="906">reactive oxygen</tspan><tspan x="80" y="914">species</tspan></text></g>
<g id="b-posTh1"><circle class="md" cx="649" cy="881" r="3.5"/><text class="t8"><tspan x="648" y="894.5">positive</tspan><tspan x="648" y="904.5">regulation of</tspan><tspan x="648" y="914.5">T-helper 1 type</tspan><tspan x="648" y="924.5">immune</tspan><tspan x="648" y="934.5">response</tspan></text></g>
<g id="b-cellRespIL1"><circle class="dk" cx="512" cy="883" r="8"/><text class="t1"><tspan x="506" y="900.5">cellular</tspan><tspan x="506" y="910.5">response to</tspan><tspan x="506" y="920.5">interleukin-1</tspan></text></g>
<g id="b-regNKchemo"><circle class="dk" cx="580" cy="887" r="5"/><text class="t1"><tspan x="579" y="901.5">regulation of</tspan><tspan x="579" y="911.5">natural killer</tspan><tspan x="579" y="921.5">cell chemotaxis</tspan></text></g>
<g id="b-granAct"><circle class="md" cx="380" cy="887" r="3.5"/><text class="t8"><tspan x="378" y="900.5">granulocyte</tspan><tspan x="378" y="910.5">activation</tspan></text></g>
<g id="b-leukDegran"><circle class="md" cx="443" cy="899" r="5"/><text class="t8"><tspan x="441" y="914.5">leukocyte</tspan><tspan x="441" y="924.5">degranulation</tspan></text></g>
<g id="b-regVesicle"><circle class="dk" cx="311" cy="888" r="7"/><text class="t1"><tspan x="309" y="905.5">regulation of</tspan><tspan x="309" y="915.5">vesicle-mediated</tspan><tspan x="309" y="925.5">transport</tspan></text></g>
<g id="b-regROS"><circle class="rd" cx="137" cy="898" r="5"/><text class="t2"><tspan x="136" y="910">regulation of</tspan><tspan x="136" y="918.5">reactive oxygen</tspan><tspan x="136" y="926">species metabolic</tspan><tspan x="136" y="934.5">process</tspan></text></g>
<g id="b-posROS"><circle class="rd" cx="228" cy="894" r="3.5"/><text class="t2"><tspan x="227" y="905">positive regulation</tspan><tspan x="227" y="913.5">of reactive oxygen</tspan><tspan x="227" y="921">species</tspan><tspan x="227" y="929.5">biosynthetic</tspan><tspan x="227" y="937.5">process</tspan></text></g>
</svg>
